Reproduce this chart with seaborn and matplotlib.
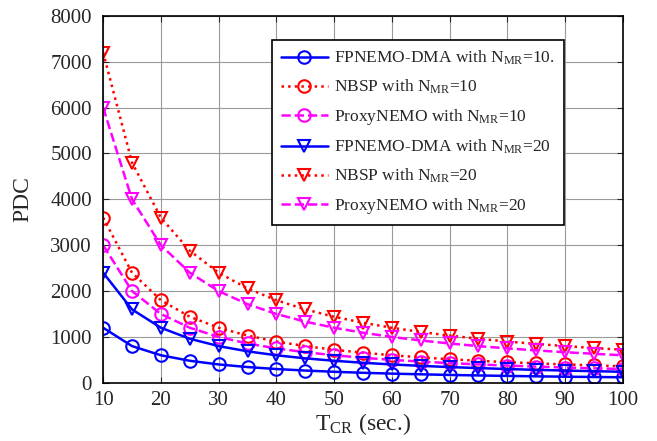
import numpy as np
import pandas as pd
import matplotlib
matplotlib.use("Agg")
import matplotlib.pyplot as plt
import seaborn as sns

t_cr = [10, 15, 20, 25, 30, 35, 40, 45, 50, 55, 60, 65, 70, 75, 80, 85, 90, 95, 100]

fp_10 = [1200, 800, 600, 480, 400, 343, 300, 267, 240, 218, 200, 185, 171, 160, 150, 141, 133, 126, 120]
nbsp_10 = [3600, 2400, 1800, 1440, 1200, 1029, 900, 800, 720, 655, 600, 554, 514, 480, 450, 424, 400, 379, 360]
proxy_10 = [3000, 2000, 1500, 1200, 1000, 857, 750, 667, 600, 545, 500, 462, 429, 400, 375, 353, 333, 316, 300]
fp_20 = [2400, 1600, 1200, 960, 800, 686, 600, 533, 480, 436, 400, 369, 343, 320, 300, 282, 267, 253, 240]
nbsp_20 = [7200, 4800, 3600, 2880, 2400, 2057, 1800, 1600, 1440, 1309, 1200, 1108, 1029, 960, 900, 847, 800, 758, 720]
proxy_20 = [6000, 4000, 3000, 2400, 2000, 1714, 1500, 1333, 1200, 1091, 1000, 923, 857, 800, 750, 706, 667, 632, 600]

labels = [r"FPNEMO-DMA with N$_{\mathrm{MR}}$=10.",
          r"NBSP with N$_{\mathrm{MR}}$=10",
          r"ProxyNEMO with N$_{\mathrm{MR}}$=10",
          r"FPNEMO-DMA with N$_{\mathrm{MR}}$=20",
          r"NBSP with N$_{\mathrm{MR}}$=20",
          r"ProxyNEMO with N$_{\mathrm{MR}}$=20"]
series = [fp_10, nbsp_10, proxy_10, fp_20, nbsp_20, proxy_20]
colors = ["#0000ff", "#ff0000", "#ff00ff", "#0000ff", "#ff0000", "#ff00ff"]
styles = ["-", ":", "--", "-", ":", "--"]
marks = ["o", "o", "o", "v", "v", "v"]

sns.set_style("ticks")
plt.rcParams["font.family"] = ["Liberation Serif", "DejaVu Serif"]
plt.rcParams["mathtext.fontset"] = "custom"
plt.rcParams["mathtext.rm"] = "Liberation Serif"
plt.rcParams["mathtext.it"] = "Liberation Serif:italic"

fig = plt.figure(figsize=(6.57, 4.41), dpi=100)
ax = fig.add_axes([0.157, 0.132, 0.791, 0.832])

for vals, lab, c, ls, m in zip(series, labels, colors, styles, marks):
    df = pd.DataFrame({"T": t_cr, "PDC": vals})
    sns.lineplot(data=df, x="T", y="PDC", ax=ax, color=c, linestyle=ls, marker=m,
                 markersize=9, markerfacecolor="none", markeredgecolor=c,
                 markeredgewidth=1.5, linewidth=1.8, label=lab)

ax.set_xlim(10, 100)
ax.set_ylim(0, 8000)
ax.set_xticks(range(10, 101, 10))
ax.set_yticks(range(0, 8001, 1000))
ax.grid(True, color="#9a9a9a", linewidth=0.8)
ax.tick_params(direction="in", top=True, right=True, labelsize=15, length=4)
ax.tick_params(axis="y", pad=8)
ax.tick_params(axis="x", pad=6)
for s in ax.spines.values():
    s.set_linewidth(1.2)
    s.set_color("black")
ax.set_xlabel(r"T$_{\mathrm{CR}}$ (sec.)", fontsize=17, labelpad=1)
ax.set_ylabel("PDC", fontsize=17, labelpad=12)

leg = ax.legend(loc="upper left", bbox_to_anchor=(272 / 657, 1 - 40 / 441),
                bbox_transform=fig.transFigure, borderaxespad=0, fontsize=12.5,
                handlelength=2.7, frameon=True, fancybox=False, edgecolor="black",
                framealpha=1, borderpad=0.5, labelspacing=0.62, handletextpad=0.4)
leg.get_frame().set_linewidth(1.2)

fig.savefig("out.png", dpi=100)
